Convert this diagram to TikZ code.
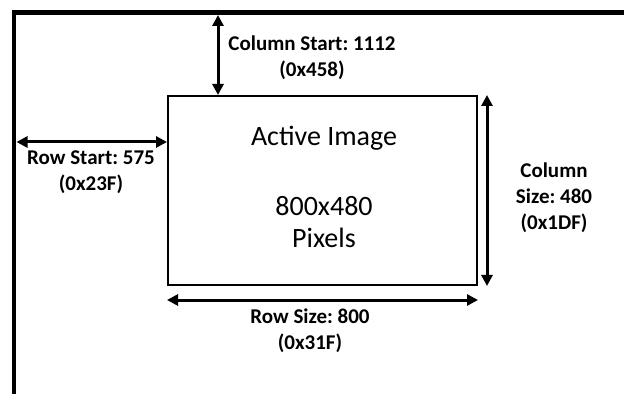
\documentclass[tikz,border=0pt]{standalone}
\usepackage{fontspec}
\setmainfont{Carlito}
\frenchspacing
\usetikzlibrary{arrows.meta}
\tikzset{
  % the frame of the whole sensor, open to the right and below
  outerframe/.style = {line width=2.25pt, line join=miter},
  % the active image area
  area/.style  = {draw, line width=1pt, inner sep=0pt,
                  minimum width=154.5pt, minimum height=94.5pt},
  % text inside the active area
  big/.style   = {font=\fontsize{14}{16}\selectfont, align=center,
                  inner sep=0pt},
  % a dimension label
  dim/.style   = {font=\bfseries\fontsize{10.5}{13}\selectfont,
                  align=center, inner sep=0pt},
  % a dimension arrow
  meas/.style  = {{Triangle[length=5.5pt,width=5.5pt]}-{Triangle[length=5.5pt,width=5.5pt]},
                  line width=1.5pt},
}
\begin{document}
\begin{tikzpicture}[x=0.5pt, y=-0.5pt]
  \useasboundingbox (0,0) rectangle (624,394);
  % --- the frame ---
  \coordinate (fTR) at (624,12.5);
  \coordinate (fTL) at (14,12.5);
  \coordinate (fBL) at (14,394);
  \draw[outerframe] (fTR) -- (fTL) -- (fBL);
  % --- the active image ---
  \node[area] (img)   at (322.5,190.5) {};
  \node[big]  (title) at (324,138) {Active Image};
  \node[big]  (res)   at (324,222) {800x480\\Pixels};
  % --- the labels ---
  \node[dim] (cstart) at (312,58)  {Column Start: 1112\\(0x458)};
  \node[dim] (rstart) at (91,172)  {Row Start: 575\\(0x23F)};
  \node[dim] (csize)  at (554,198) {Column\\Size: 480\\(0x1DF)};
  \node[dim] (rsize)  at (310,331) {Row Size: 800\\(0x31F)};
  % --- and the dimensions ---
  \coordinate (cs) at (218,15);
  \draw[meas] (cs) -- (cs |- img.north);
  \coordinate (rs) at (16.5,142);
  \draw[meas] (rs) -- (rs -| img.west);
  \draw[meas] ([xshift=4.5pt]img.north east) -- ([xshift=4.5pt]img.south east);
  \draw[meas] ([yshift=-7pt]img.south west) -- ([yshift=-7pt]img.south east);
\end{tikzpicture}
\end{document}
